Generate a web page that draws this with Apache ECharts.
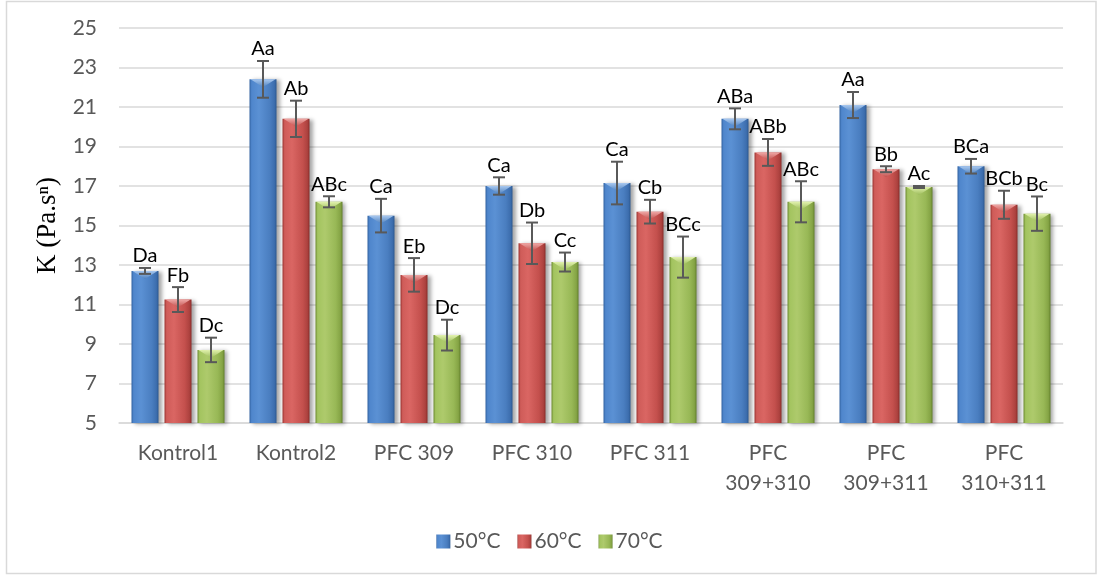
<!DOCTYPE html>
<html>
<head>
<meta charset="utf-8">
<script src="https://cdn.jsdelivr.net/npm/echarts@6/dist/echarts.min.js"></script>
<style>
  html, body { margin: 0; padding: 0; background: #ffffff; }
  #chart { width: 1099px; height: 579px; }
</style>
</head>
<body>
<div id="chart"></div>
<script>
// Consistency coefficient K at three temperatures for each sample
const categories = ['Kontrol1', 'Kontrol2', 'PFC 309', 'PFC 310', 'PFC 311', 'PFC\n309+310', 'PFC\n309+311', 'PFC\n310+311'];
const seriesNames = ['50°C', '60°C', '70°C'];

const k50 = [12.7, 22.4, 15.5, 17.0, 17.15, 20.4, 21.1, 18.0];
const k60 = [11.25, 20.4, 12.5, 14.1, 15.7, 18.7, 17.85, 16.05];
const k70 = [8.7, 16.2, 9.45, 13.15, 13.4, 16.2, 16.95, 15.6];

const err50 = [0.15, 0.93, 0.85, 0.44, 1.08, 0.53, 0.66, 0.37];
const err60 = [0.63, 0.92, 0.85, 1.05, 0.6, 0.68, 0.15, 0.71];
const err70 = [0.62, 0.28, 0.78, 0.48, 1.04, 1.04, 0.05, 0.87];

const letters50 = ['Da', 'Aa', 'Ca', 'Ca', 'Ca', 'ABa', 'Aa', 'BCa'];
const letters60 = ['Fb', 'Ab', 'Eb', 'Db', 'Cb', 'ABb', 'Bb', 'BCb'];
const letters70 = ['Dc', 'ABc', 'Dc', 'Cc', 'BCc', 'ABc', 'Ac', 'Bc'];

const yTicks = { min: 5, max: 25, interval: 2 };

const FONT = 'Lato';
const BAR_W = 27;
const BAR_STEP = 33;

function barGradient(stops) {
  return new echarts.graphic.LinearGradient(0, 0, 1, 0,
    stops.map((c, i) => ({ offset: [0, 0.08, 0.35, 0.75, 0.92, 1][i], color: c })));
}

const palettes = [
  { fill: barGradient(['#3263a2', '#4f86cc', '#5b91d4', '#4a7ec0', '#3d6eae', '#2b5891']), bevel: '#a8c8f0', base: '#4f81bd' },
  { fill: barGradient(['#9a3330', '#cf5c59', '#da6663', '#c4504d', '#ad423f', '#8a2c29']), bevel: '#f0a8a6', base: '#c0504d' },
  { fill: barGradient(['#6c8a30', '#a3c45f', '#aeca6c', '#98b856', '#85a445', '#62802b']), bevel: '#e2f2ae', base: '#9bbb59' }
];

const values = [k50, k60, k70];
const errs = [err50, err60, err70];
const letters = [letters50, letters60, letters70];

const barSeries = values.map((vals, s) => ({
  name: seriesNames[s],
  type: 'bar',
  data: vals,
  barWidth: BAR_W,
  barGap: (100 * (BAR_STEP - BAR_W) / BAR_W).toFixed(1) + '%',
  itemStyle: {
    color: palettes[s].fill,
    shadowColor: 'rgba(0,0,0,0.35)',
    shadowBlur: 4,
    shadowOffsetX: 3,
    shadowOffsetY: 1
  },
  z: 2
}));

// Bevel highlight, error bars and significance letters drawn over each bar
const overlaySeries = values.map((vals, s) => ({
  name: 'overlay-' + s,
  type: 'custom',
  z: 5,
  data: vals.map((v, i) => [i, v, errs[s][i]]),
  renderItem: function (params, api) {
    const i = api.value(0), v = api.value(1), e = api.value(2);
    const cx = api.coord([i, v])[0] + (s - 1) * BAR_STEP;
    const yBar = api.coord([i, v])[1];
    const yTop = api.coord([i, v + e])[1];
    const yBot = api.coord([i, v - e])[1];
    const hw = BAR_W / 2;
    const stroke = { stroke: '#595959', lineWidth: 2 };
    return {
      type: 'group',
      children: [
        {
          type: 'polygon',
          shape: { points: [[cx - hw + 1, yBar], [cx + hw - 1, yBar], [cx, yBar + 8]] },
          style: {
            fill: new echarts.graphic.LinearGradient(0, 0, 0, 1, [
              { offset: 0, color: palettes[s].bevel },
              { offset: 1, color: palettes[s].base }
            ])
          }
        },
        { type: 'line', shape: { x1: cx, y1: yTop, x2: cx, y2: yBot }, style: stroke },
        { type: 'line', shape: { x1: cx - 6, y1: yTop, x2: cx + 6, y2: yTop }, style: stroke },
        { type: 'line', shape: { x1: cx - 6, y1: yBot, x2: cx + 6, y2: yBot }, style: stroke },
        {
          type: 'text',
          style: {
            text: letters[s][params.dataIndex],
            x: cx, y: yTop - 2,
            align: 'center', verticalAlign: 'bottom',
            fill: '#000000', font: '20px ' + FONT
          }
        }
      ]
    };
  }
}));

const chart = echarts.init(document.getElementById('chart'), null, { renderer: 'canvas' });
chart.setOption({
  animation: false,
  backgroundColor: '#ffffff',
  graphic: [{
    type: 'rect',
    shape: { x: 6.5, y: 1.5, width: 1089.5, height: 572 },
    style: { fill: 'none', stroke: '#d9d9d9', lineWidth: 1.5 },
    silent: true
  }],
  grid: { left: 119, right: 36, top: 28, bottom: 156 },
  legend: {
    data: seriesNames,
    top: 526,
    left: 'center',
    icon: 'rect',
    itemWidth: 14,
    itemHeight: 14,
    itemGap: 17,
    textStyle: { fontFamily: FONT, fontSize: 21, color: '#595959', padding: [0, 0, 0, -2] }
  },
  xAxis: {
    type: 'category',
    data: categories,
    axisLine: { lineStyle: { color: '#d9d9d9', width: 1.5 } },
    axisTick: { show: false },
    axisLabel: { fontFamily: FONT, fontSize: 21, color: '#595959', margin: 15, lineHeight: 30, interval: 0 }
  },
  yAxis: {
    type: 'value',
    min: yTicks.min,
    max: yTicks.max,
    interval: yTicks.interval,
    name: 'K (Pa.s\u207F)',
    nameLocation: 'middle',
    nameGap: 54,
    nameRotate: 90,
    nameTextStyle: { fontFamily: 'Liberation Serif', fontSize: 27, color: '#000000' },
    axisLine: { show: false },
    axisTick: { show: false },
    axisLabel: { fontFamily: FONT, fontSize: 21, color: '#595959', margin: 22 },
    splitLine: { lineStyle: { color: '#d9d9d9', width: 1.5 } }
  },
  series: barSeries.concat(overlaySeries)
});
</script>
</body>
</html>
